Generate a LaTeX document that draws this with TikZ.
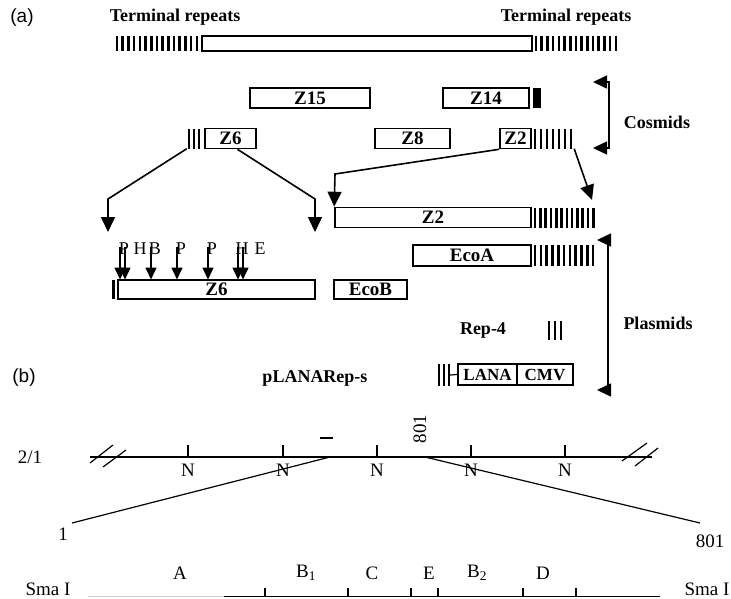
\documentclass[tikz,border=0pt]{standalone}
\usepackage{fontspec}
\setmainfont{Liberation Serif}
\newfontfamily\panelfont{Liberation Sans}
\usetikzlibrary{arrows.meta,positioning}

% vertical bars of a repeat block: x0, step, last index, top, height
\newcommand{\repbars}[5]{%
  \foreach \i in {0,...,#3}{\draw[bar] ({#1+\i*#2},#4) -- ++(0,#5);}}

\begin{document}
\begin{tikzpicture}[x=1pt, y=-1pt,
    seg/.style={rectangle, draw, line width=1.6pt, inner sep=0pt, minimum height=20pt, font=\fontsize{19}{19}\selectfont\bfseries},
    rep/.style={rectangle, inner sep=0pt, minimum height=20pt},
    bar/.style={line width=2.6pt},
    conn/.style={line width=1.6pt, -{Triangle[length=15pt,width=14pt]}},
    sitearr/.style={line width=1.5pt, -{Triangle[length=12pt,width=11pt]}},
    brk/.style={line width=1.5pt, {Triangle[length=14pt,width=13pt]}-{Triangle[length=14pt,width=13pt]}},
    head/.style={font=\fontsize{18}{18}\selectfont\bfseries},
    site/.style={font=\fontsize{18}{18}\selectfont, inner sep=0pt},
    txt/.style={font=\fontsize{19}{19}\selectfont, inner sep=0pt},
    ln/.style={line width=1.2pt},
    panel/.style={font=\panelfont\fontsize{19}{19}\selectfont}
  ]
  \useasboundingbox (0,0) rectangle (731,598);

  % (a) cosmids
  \node[panel] (pa) at (22,18) {(a)};
  \node[head] (trtxtL) at (175,17) {Terminal repeats};
  \node[head] (trtxtR) at (566,17) {Terminal repeats};
  \node[seg, minimum width=330pt, minimum height=15pt] (genome) at (367,43.5) {};
  \repbars{117}{5.7}{14}{36}{15}
  \repbars{536}{5.7}{14}{36}{15}

  \node[seg, minimum width=120pt] (z15) at (310,98) {Z15};
  \node[seg, minimum width=86pt] (z14) at (486,98) {Z14};
  \node[fill, inner sep=0pt, minimum width=8pt, minimum height=20pt, right=3pt of z14] (z14end) {};

  \node[rep, minimum width=14pt] (z6rep) at (194,138.5) {};
  \repbars{189}{5}{2}{128.5}{20}
  \node[seg, minimum width=51pt] (z6s) at (230.5,138.5) {Z6};
  \node[seg, minimum width=75pt] (z8) at (412.5,138.5) {Z8};
  \node[seg, minimum width=31pt] (z2s) at (515.5,138.5) {Z2};
  \node[rep, minimum width=41pt] (z2rep) at (553.5,138.5) {};
  \repbars{535}{6}{6}{128.5}{20}

  \coordinate (cosT) at (593,82);
  \coordinate (cosTk) at (609,82);
  \coordinate (cosBk) at (609,148);
  \coordinate (cosB) at (593,148);
  \draw[brk] (cosT) -- (cosTk) -- (cosBk) -- (cosB);
  \node[head] (cosmids) at (657,122) {Cosmids};

  % (a) plasmids
  \node[seg, minimum width=196pt] (z2) at (433,217.5) {Z2};
  \repbars{535}{5.3}{11}{207.5}{20}
  \node[seg, minimum width=118pt, minimum height=21pt] (ecoa) at (472,255.5) {EcoA};
  \repbars{535}{5.8}{10}{245}{21}
  \node[seg, minimum width=73pt, minimum height=19pt] (ecob) at (370.5,289.5) {EcoB};
  \node[seg, minimum width=197pt, minimum height=19pt] (z6) at (216.5,289.5) {Z6};
  \draw[line width=3pt] (113,280) -- (113,299);

  \coordinate (z6cutL) at (108,232);
  \coordinate (z6cutR) at (315,232);
  \coordinate (z2end) at (592,200);
  \draw[conn] (z6rep.south west) -- (108,199) -- (z6cutL);
  \draw[conn] ([xshift=7pt]z6s.south) -- (315,199) -- (z6cutR);
  \draw[conn] (z2s.south west) -- (335,174) -- (z2.north west);
  \draw[conn] (z2rep.south east) -- (z2end);

  \foreach \x/\t [count=\k] in {124/P,140/H,155/B,181/P,212/P,242/H,260/E}
    \node[site] (s\k) at (\x,249) {\t};
  \foreach \x in {120,125,151,177,208,238,243}
    \draw[sitearr] (\x,247) -- (\x,279.5);

  \node[head] (rep4) at (483,330) {Rep-4};
  \repbars{549}{6}{2}{321}{19}
  \node[head] (plana) at (315,378) {pLANARep-s};
  \repbars{439}{5}{2}{364}{22}
  \node[seg, minimum width=59pt, minimum height=21pt, font=\fontsize{17}{17}\selectfont\bfseries] (lana) at (487.5,374.5) {LANA};
  \node[seg, minimum width=56pt, minimum height=21pt, font=\fontsize{17}{17}\selectfont\bfseries] (cmv) at (545,374.5) {CMV};
  \draw[ln] (450,375) -- (lana.west);

  \coordinate (plaT) at (597,240);
  \coordinate (plaTk) at (608,240);
  \coordinate (plaBk) at (608,390);
  \coordinate (plaB) at (597,390);
  \draw[brk] (plaT) -- (plaTk) -- (plaBk) -- (plaB);
  \node[head] (plasmids) at (658,323) {Plasmids};

  % (b) map
  \node[panel] (pb) at (24,378) {(b)};
  \node[txt] (ratio) at (30,457) {2/1};
  \coordinate (lineL) at (90,457);
  \coordinate (lineR) at (652,457);
  \draw[ln] (lineL) -- (lineR);
  \draw[ln] (90,463) -- (113,445);
  \draw[ln] (103,467) -- (126,450);
  \draw[ln] (622,461) -- (647,443);
  \draw[ln] (635,466) -- (658,448);
  \foreach \x [count=\k] in {188,283,377,471,565}{
    \draw[ln] (\x,445) -- (\x,457);
    \node[txt] (n\k) at (\x,470) {N};
  }
  \draw[line width=1.8pt] (320,438) -- (333,438);
  \node[txt, rotate=90] (top801) at (420,429) {801};

  \coordinate (joinL) at (330,457);
  \coordinate (joinR) at (425,457);
  \coordinate (end1) at (72,523);
  \coordinate (end801) at (700,523);
  \draw[ln] (joinL) -- (end1);
  \draw[ln] (joinR) -- (end801);
  \node[txt] (lab1) at (63,534) {1};
  \node[txt] (lab801) at (710,541) {801};

  % SmaI fragments
  \draw[line width=1.2pt, gray!40] (88,596.5) -- (224,596.5);
  \draw[ln] (224,596.5) -- (660,596.5);
  \foreach \x in {265,348,411,438,523,576}
    \draw[ln] (\x,588) -- (\x,597);
  \foreach \x/\t [count=\k] in {180/A,306/B\textsubscript{1},372/C,429/E,477/B\textsubscript{2},543/D}
    \node[txt] (f\k) at (\x,573) {\t};
  \node[txt] (smaL) at (48,589) {Sma I};
  \node[txt] (smaR) at (707,589) {Sma I};
\end{tikzpicture}
\end{document}
